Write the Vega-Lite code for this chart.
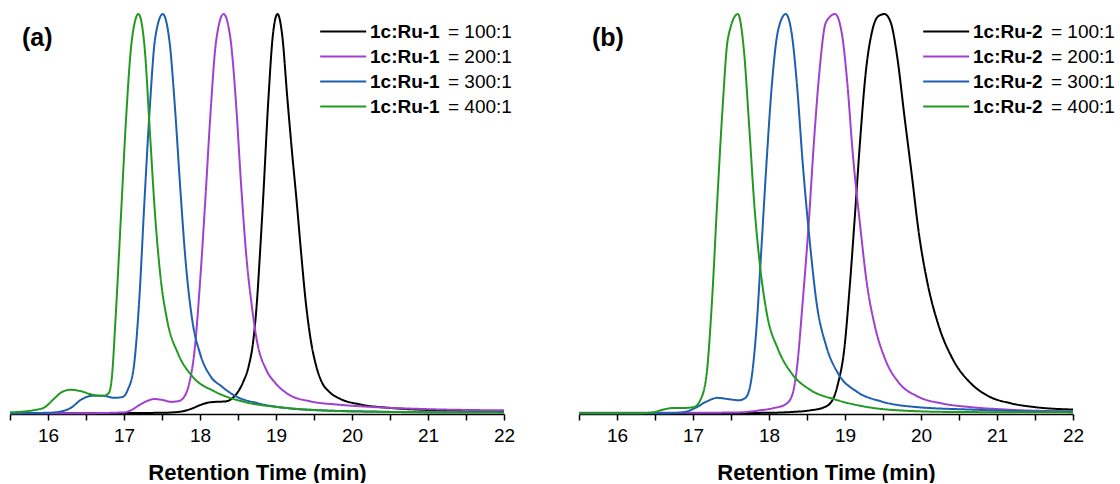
{
  "$schema": "https://vega.github.io/schema/vega-lite/v6.json",
  "padding": {"left": 6, "top": 10, "right": 0, "bottom": 0},
  "autosize": {"type": "pad"},
  "config": {
    "view": {"stroke": null},
    "font": "Liberation Sans",
    "axis": {"domainColor": "black", "domainWidth": 1.5, "tickColor": "black", "tickWidth": 1.5, "tickSize": 6, "labelFont": "Liberation Sans", "labelFontSize": 19, "labelColor": "black", "labelPadding": 6, "titleFont": "Liberation Sans", "titleFontSize": 22, "titleFontWeight": "bold", "titleColor": "black", "titlePadding": 17, "grid": false, "labelFlush": false, "labelOverlap": false},
    "legend": {"padding": 0, "rowPadding": 5, "labelFont": "Liberation Sans", "labelFontSize": 19, "labelColor": "black", "symbolStrokeWidth": 2.2, "labelLimit": 300},
    "title": {"font": "Liberation Sans", "fontSize": 25, "fontWeight": "bold", "color": "black", "anchor": "start", "frame": "group"}
  },
  "data": {"values": [
    {"p":"a","r":"100:1","t":15.5,"v":0.002},{"p":"a","r":"100:1","t":16.5,"v":0.002},{"p":"a","r":"100:1","t":17.5,"v":0.003},{"p":"a","r":"100:1","t":17.75,"v":0.006},{"p":"a","r":"100:1","t":17.9,"v":0.014},{"p":"a","r":"100:1","t":18.0,"v":0.022},{"p":"a","r":"100:1","t":18.1,"v":0.028},{"p":"a","r":"100:1","t":18.2,"v":0.03},{"p":"a","r":"100:1","t":18.33,"v":0.031},{"p":"a","r":"100:1","t":18.42,"v":0.038},{"p":"a","r":"100:1","t":18.5,"v":0.055},{"p":"a","r":"100:1","t":18.57,"v":0.08},{"p":"a","r":"100:1","t":18.64,"v":0.118},{"p":"a","r":"100:1","t":18.7,"v":0.18},{"p":"a","r":"100:1","t":18.75,"v":0.28},{"p":"a","r":"100:1","t":18.79,"v":0.4},{"p":"a","r":"100:1","t":18.83,"v":0.53},{"p":"a","r":"100:1","t":18.9,"v":0.78},{"p":"a","r":"100:1","t":18.96,"v":0.94},{"p":"a","r":"100:1","t":19.02,"v":0.99},{"p":"a","r":"100:1","t":19.08,"v":0.94},{"p":"a","r":"100:1","t":19.15,"v":0.78},{"p":"a","r":"100:1","t":19.21,"v":0.65},{"p":"a","r":"100:1","t":19.27,"v":0.53},{"p":"a","r":"100:1","t":19.33,"v":0.4},{"p":"a","r":"100:1","t":19.39,"v":0.28},{"p":"a","r":"100:1","t":19.46,"v":0.18},{"p":"a","r":"100:1","t":19.53,"v":0.118},{"p":"a","r":"100:1","t":19.6,"v":0.08},{"p":"a","r":"100:1","t":19.7,"v":0.055},{"p":"a","r":"100:1","t":19.85,"v":0.037},{"p":"a","r":"100:1","t":20.1,"v":0.024},{"p":"a","r":"100:1","t":20.5,"v":0.015},{"p":"a","r":"100:1","t":21.0,"v":0.01},{"p":"a","r":"100:1","t":21.5,"v":0.008},{"p":"a","r":"100:1","t":22.0,"v":0.006},
    {"p":"a","r":"200:1","t":15.5,"v":0.002},{"p":"a","r":"200:1","t":16.5,"v":0.002},{"p":"a","r":"200:1","t":17.0,"v":0.004},{"p":"a","r":"200:1","t":17.1,"v":0.01},{"p":"a","r":"200:1","t":17.2,"v":0.022},{"p":"a","r":"200:1","t":17.3,"v":0.032},{"p":"a","r":"200:1","t":17.4,"v":0.037},{"p":"a","r":"200:1","t":17.5,"v":0.035},{"p":"a","r":"200:1","t":17.62,"v":0.03},{"p":"a","r":"200:1","t":17.72,"v":0.032},{"p":"a","r":"200:1","t":17.8,"v":0.045},{"p":"a","r":"200:1","t":17.86,"v":0.077},{"p":"a","r":"200:1","t":17.93,"v":0.16},{"p":"a","r":"200:1","t":18.0,"v":0.325},{"p":"a","r":"200:1","t":18.07,"v":0.53},{"p":"a","r":"200:1","t":18.14,"v":0.75},{"p":"a","r":"200:1","t":18.21,"v":0.92},{"p":"a","r":"200:1","t":18.31,"v":0.99},{"p":"a","r":"200:1","t":18.4,"v":0.93},{"p":"a","r":"200:1","t":18.47,"v":0.78},{"p":"a","r":"200:1","t":18.54,"v":0.57},{"p":"a","r":"200:1","t":18.61,"v":0.39},{"p":"a","r":"200:1","t":18.68,"v":0.27},{"p":"a","r":"200:1","t":18.75,"v":0.18},{"p":"a","r":"200:1","t":18.87,"v":0.11},{"p":"a","r":"200:1","t":18.99,"v":0.077},{"p":"a","r":"200:1","t":19.17,"v":0.048},{"p":"a","r":"200:1","t":19.46,"v":0.031},{"p":"a","r":"200:1","t":19.83,"v":0.023},{"p":"a","r":"200:1","t":20.31,"v":0.017},{"p":"a","r":"200:1","t":21.0,"v":0.012},{"p":"a","r":"200:1","t":22.0,"v":0.009},
    {"p":"a","r":"300:1","t":15.5,"v":0.002},{"p":"a","r":"300:1","t":16.0,"v":0.003},{"p":"a","r":"300:1","t":16.16,"v":0.006},{"p":"a","r":"300:1","t":16.3,"v":0.015},{"p":"a","r":"300:1","t":16.44,"v":0.036},{"p":"a","r":"300:1","t":16.58,"v":0.045},{"p":"a","r":"300:1","t":16.73,"v":0.045},{"p":"a","r":"300:1","t":16.87,"v":0.04},{"p":"a","r":"300:1","t":16.98,"v":0.042},{"p":"a","r":"300:1","t":17.05,"v":0.06},{"p":"a","r":"300:1","t":17.13,"v":0.118},{"p":"a","r":"300:1","t":17.2,"v":0.28},{"p":"a","r":"300:1","t":17.27,"v":0.53},{"p":"a","r":"300:1","t":17.34,"v":0.76},{"p":"a","r":"300:1","t":17.41,"v":0.93},{"p":"a","r":"300:1","t":17.51,"v":0.99},{"p":"a","r":"300:1","t":17.6,"v":0.92},{"p":"a","r":"300:1","t":17.67,"v":0.76},{"p":"a","r":"300:1","t":17.74,"v":0.56},{"p":"a","r":"300:1","t":17.81,"v":0.38},{"p":"a","r":"300:1","t":17.9,"v":0.23},{"p":"a","r":"300:1","t":18.0,"v":0.15},{"p":"a","r":"300:1","t":18.14,"v":0.093},{"p":"a","r":"300:1","t":18.28,"v":0.069},{"p":"a","r":"300:1","t":18.47,"v":0.044},{"p":"a","r":"300:1","t":18.75,"v":0.027},{"p":"a","r":"300:1","t":19.13,"v":0.015},{"p":"a","r":"300:1","t":19.6,"v":0.009},{"p":"a","r":"300:1","t":20.3,"v":0.006},{"p":"a","r":"300:1","t":21.0,"v":0.004},{"p":"a","r":"300:1","t":22.0,"v":0.004},
    {"p":"a","r":"400:1","t":15.5,"v":0.004},{"p":"a","r":"400:1","t":15.83,"v":0.01},{"p":"a","r":"400:1","t":15.95,"v":0.016},{"p":"a","r":"400:1","t":16.07,"v":0.036},{"p":"a","r":"400:1","t":16.18,"v":0.054},{"p":"a","r":"400:1","t":16.3,"v":0.06},{"p":"a","r":"400:1","t":16.44,"v":0.056},{"p":"a","r":"400:1","t":16.58,"v":0.048},{"p":"a","r":"400:1","t":16.73,"v":0.045},{"p":"a","r":"400:1","t":16.8,"v":0.052},{"p":"a","r":"400:1","t":16.84,"v":0.09},{"p":"a","r":"400:1","t":16.89,"v":0.24},{"p":"a","r":"400:1","t":16.96,"v":0.49},{"p":"a","r":"400:1","t":17.03,"v":0.74},{"p":"a","r":"400:1","t":17.1,"v":0.92},{"p":"a","r":"400:1","t":17.19,"v":0.99},{"p":"a","r":"400:1","t":17.27,"v":0.91},{"p":"a","r":"400:1","t":17.34,"v":0.7},{"p":"a","r":"400:1","t":17.41,"v":0.49},{"p":"a","r":"400:1","t":17.48,"v":0.34},{"p":"a","r":"400:1","t":17.57,"v":0.23},{"p":"a","r":"400:1","t":17.71,"v":0.15},{"p":"a","r":"400:1","t":17.9,"v":0.093},{"p":"a","r":"400:1","t":18.19,"v":0.056},{"p":"a","r":"400:1","t":18.56,"v":0.031},{"p":"a","r":"400:1","t":19.03,"v":0.017},{"p":"a","r":"400:1","t":19.6,"v":0.009},{"p":"a","r":"400:1","t":20.54,"v":0.005},{"p":"a","r":"400:1","t":22.0,"v":0.004},
    {"p":"b","r":"100:1","t":15.5,"v":0.002},{"p":"b","r":"100:1","t":17.0,"v":0.002},{"p":"b","r":"100:1","t":18.0,"v":0.003},{"p":"b","r":"100:1","t":18.3,"v":0.005},{"p":"b","r":"100:1","t":18.54,"v":0.009},{"p":"b","r":"100:1","t":18.73,"v":0.017},{"p":"b","r":"100:1","t":18.84,"v":0.036},{"p":"b","r":"100:1","t":18.91,"v":0.077},{"p":"b","r":"100:1","t":18.99,"v":0.16},{"p":"b","r":"100:1","t":19.06,"v":0.31},{"p":"b","r":"100:1","t":19.13,"v":0.49},{"p":"b","r":"100:1","t":19.2,"v":0.68},{"p":"b","r":"100:1","t":19.27,"v":0.84},{"p":"b","r":"100:1","t":19.36,"v":0.95},{"p":"b","r":"100:1","t":19.44,"v":0.985},{"p":"b","r":"100:1","t":19.52,"v":0.99},{"p":"b","r":"100:1","t":19.6,"v":0.97},{"p":"b","r":"100:1","t":19.69,"v":0.88},{"p":"b","r":"100:1","t":19.78,"v":0.74},{"p":"b","r":"100:1","t":19.88,"v":0.59},{"p":"b","r":"100:1","t":19.97,"v":0.45},{"p":"b","r":"100:1","t":20.09,"v":0.32},{"p":"b","r":"100:1","t":20.23,"v":0.22},{"p":"b","r":"100:1","t":20.42,"v":0.135},{"p":"b","r":"100:1","t":20.65,"v":0.077},{"p":"b","r":"100:1","t":20.89,"v":0.044},{"p":"b","r":"100:1","t":21.17,"v":0.027},{"p":"b","r":"100:1","t":21.5,"v":0.017},{"p":"b","r":"100:1","t":22.0,"v":0.011},
    {"p":"b","r":"200:1","t":15.5,"v":0.003},{"p":"b","r":"200:1","t":17.0,"v":0.003},{"p":"b","r":"200:1","t":17.6,"v":0.004},{"p":"b","r":"200:1","t":17.88,"v":0.009},{"p":"b","r":"200:1","t":18.07,"v":0.015},{"p":"b","r":"200:1","t":18.21,"v":0.023},{"p":"b","r":"200:1","t":18.3,"v":0.044},{"p":"b","r":"200:1","t":18.37,"v":0.118},{"p":"b","r":"200:1","t":18.44,"v":0.27},{"p":"b","r":"200:1","t":18.52,"v":0.465},{"p":"b","r":"200:1","t":18.59,"v":0.67},{"p":"b","r":"200:1","t":18.66,"v":0.84},{"p":"b","r":"200:1","t":18.75,"v":0.97},{"p":"b","r":"200:1","t":18.87,"v":0.99},{"p":"b","r":"200:1","t":18.96,"v":0.94},{"p":"b","r":"200:1","t":19.03,"v":0.82},{"p":"b","r":"200:1","t":19.1,"v":0.65},{"p":"b","r":"200:1","t":19.2,"v":0.465},{"p":"b","r":"200:1","t":19.29,"v":0.32},{"p":"b","r":"200:1","t":19.39,"v":0.22},{"p":"b","r":"200:1","t":19.53,"v":0.135},{"p":"b","r":"200:1","t":19.71,"v":0.077},{"p":"b","r":"200:1","t":19.95,"v":0.044},{"p":"b","r":"200:1","t":20.28,"v":0.026},{"p":"b","r":"200:1","t":20.65,"v":0.017},{"p":"b","r":"200:1","t":21.12,"v":0.011},{"p":"b","r":"200:1","t":22.0,"v":0.006},
    {"p":"b","r":"300:1","t":15.5,"v":0.002},{"p":"b","r":"300:1","t":16.66,"v":0.002},{"p":"b","r":"300:1","t":16.89,"v":0.005},{"p":"b","r":"300:1","t":17.03,"v":0.015},{"p":"b","r":"300:1","t":17.18,"v":0.031},{"p":"b","r":"300:1","t":17.32,"v":0.04},{"p":"b","r":"300:1","t":17.46,"v":0.037},{"p":"b","r":"300:1","t":17.6,"v":0.034},{"p":"b","r":"300:1","t":17.69,"v":0.04},{"p":"b","r":"300:1","t":17.76,"v":0.077},{"p":"b","r":"300:1","t":17.83,"v":0.2},{"p":"b","r":"300:1","t":17.9,"v":0.41},{"p":"b","r":"300:1","t":17.97,"v":0.63},{"p":"b","r":"300:1","t":18.04,"v":0.82},{"p":"b","r":"300:1","t":18.12,"v":0.95},{"p":"b","r":"300:1","t":18.22,"v":0.99},{"p":"b","r":"300:1","t":18.3,"v":0.94},{"p":"b","r":"300:1","t":18.37,"v":0.81},{"p":"b","r":"300:1","t":18.44,"v":0.63},{"p":"b","r":"300:1","t":18.54,"v":0.42},{"p":"b","r":"300:1","t":18.63,"v":0.27},{"p":"b","r":"300:1","t":18.75,"v":0.17},{"p":"b","r":"300:1","t":18.91,"v":0.1},{"p":"b","r":"300:1","t":19.15,"v":0.056},{"p":"b","r":"300:1","t":19.48,"v":0.031},{"p":"b","r":"300:1","t":19.95,"v":0.017},{"p":"b","r":"300:1","t":20.65,"v":0.011},{"p":"b","r":"300:1","t":21.36,"v":0.007},{"p":"b","r":"300:1","t":22.0,"v":0.006},
    {"p":"b","r":"400:1","t":15.5,"v":0.002},{"p":"b","r":"400:1","t":16.3,"v":0.002},{"p":"b","r":"400:1","t":16.47,"v":0.004},{"p":"b","r":"400:1","t":16.61,"v":0.011},{"p":"b","r":"400:1","t":16.75,"v":0.015},{"p":"b","r":"400:1","t":16.89,"v":0.015},{"p":"b","r":"400:1","t":17.01,"v":0.017},{"p":"b","r":"400:1","t":17.1,"v":0.036},{"p":"b","r":"400:1","t":17.18,"v":0.1},{"p":"b","r":"400:1","t":17.25,"v":0.28},{"p":"b","r":"400:1","t":17.32,"v":0.53},{"p":"b","r":"400:1","t":17.39,"v":0.76},{"p":"b","r":"400:1","t":17.46,"v":0.93},{"p":"b","r":"400:1","t":17.59,"v":0.99},{"p":"b","r":"400:1","t":17.67,"v":0.9},{"p":"b","r":"400:1","t":17.74,"v":0.71},{"p":"b","r":"400:1","t":17.81,"v":0.51},{"p":"b","r":"400:1","t":17.88,"v":0.37},{"p":"b","r":"400:1","t":17.97,"v":0.25},{"p":"b","r":"400:1","t":18.12,"v":0.16},{"p":"b","r":"400:1","t":18.3,"v":0.1},{"p":"b","r":"400:1","t":18.54,"v":0.06},{"p":"b","r":"400:1","t":18.87,"v":0.036},{"p":"b","r":"400:1","t":19.24,"v":0.019},{"p":"b","r":"400:1","t":19.71,"v":0.009},{"p":"b","r":"400:1","t":20.42,"v":0.005},{"p":"b","r":"400:1","t":22.0,"v":0.004}
  ]},
  "spacing": 75,
  "bounds": "flush",
  "resolve": {"scale": {"color": "independent", "strokeDash": "independent"}},
  "hconcat": [
    {
      "width": 494, "height": 404,
      "title": {"text": "(a)", "offset": -41, "dx": 12},
      "transform": [{"filter": "datum.p === 'a'"}],
      "mark": {"type": "line", "interpolate": "monotone", "strokeWidth": 2},
      "encoding": {
        "x": {"field": "t", "type": "quantitative", "scale": {"domain": [15.5, 22], "nice": false, "zero": false}, "axis": {"values": [15.5,16,16.5,17,17.5,18,18.5,19,19.5,20,20.5,21,21.5,22], "labelExpr": "datum.value % 1 === 0 ? format(datum.value, 'd') : ''", "title": "Retention Time (min)"}},
        "y": {"field": "v", "type": "quantitative", "scale": {"domain": [0, 1], "nice": false, "zero": true}, "axis": null},
        "color": {"field": "r", "type": "nominal", "scale": {"range": ["#000000", "#a040d0", "#1f5fb0", "#229a22"]}, "legend": {"title": null, "orient": "none", "legendX": 339, "legendY": 12, "symbolType": "M-5,0H1", "symbolSize": 235, "labelOffset": 2, "labelFontWeight": "bold", "labelExpr": "'1c:Ru-1'"}},
        "strokeDash": {"field": "r", "type": "nominal", "scale": {"domain": ["100:1", "200:1", "300:1", "400:1"], "range": [[1, 0], [1, 0], [1, 0], [1, 0]]}, "legend": {"title": null, "orient": "none", "legendX": 419, "legendY": 12, "symbolOpacity": 0, "symbolSize": 0, "symbolStrokeWidth": 0, "labelOffset": 0, "labelExpr": "'= ' + datum.label"}}
      }
    },
    {
      "width": 494, "height": 404,
      "title": {"text": "(b)", "offset": -41, "dx": 13},
      "transform": [{"filter": "datum.p === 'b'"}],
      "mark": {"type": "line", "interpolate": "monotone", "strokeWidth": 2},
      "encoding": {
        "x": {"field": "t", "type": "quantitative", "scale": {"domain": [15.5, 22], "nice": false, "zero": false}, "axis": {"values": [15.5,16,16.5,17,17.5,18,18.5,19,19.5,20,20.5,21,21.5,22], "labelExpr": "datum.value % 1 === 0 ? format(datum.value, 'd') : ''", "title": "Retention Time (min)"}},
        "y": {"field": "v", "type": "quantitative", "scale": {"domain": [0, 1], "nice": false, "zero": true}, "axis": null},
        "color": {"field": "r", "type": "nominal", "scale": {"range": ["#000000", "#a040d0", "#1f5fb0", "#229a22"]}, "legend": {"title": null, "orient": "none", "legendX": 373, "legendY": 12, "symbolType": "M-5,0H1", "symbolSize": 235, "labelOffset": 2, "labelFontWeight": "bold", "labelExpr": "'1c:Ru-2'"}},
        "strokeDash": {"field": "r", "type": "nominal", "scale": {"domain": ["100:1", "200:1", "300:1", "400:1"], "range": [[1, 0], [1, 0], [1, 0], [1, 0]]}, "legend": {"title": null, "orient": "none", "legendX": 453, "legendY": 12, "symbolOpacity": 0, "symbolSize": 0, "symbolStrokeWidth": 0, "labelOffset": 0, "labelExpr": "'= ' + datum.label"}}
      }
    }
  ]
}
